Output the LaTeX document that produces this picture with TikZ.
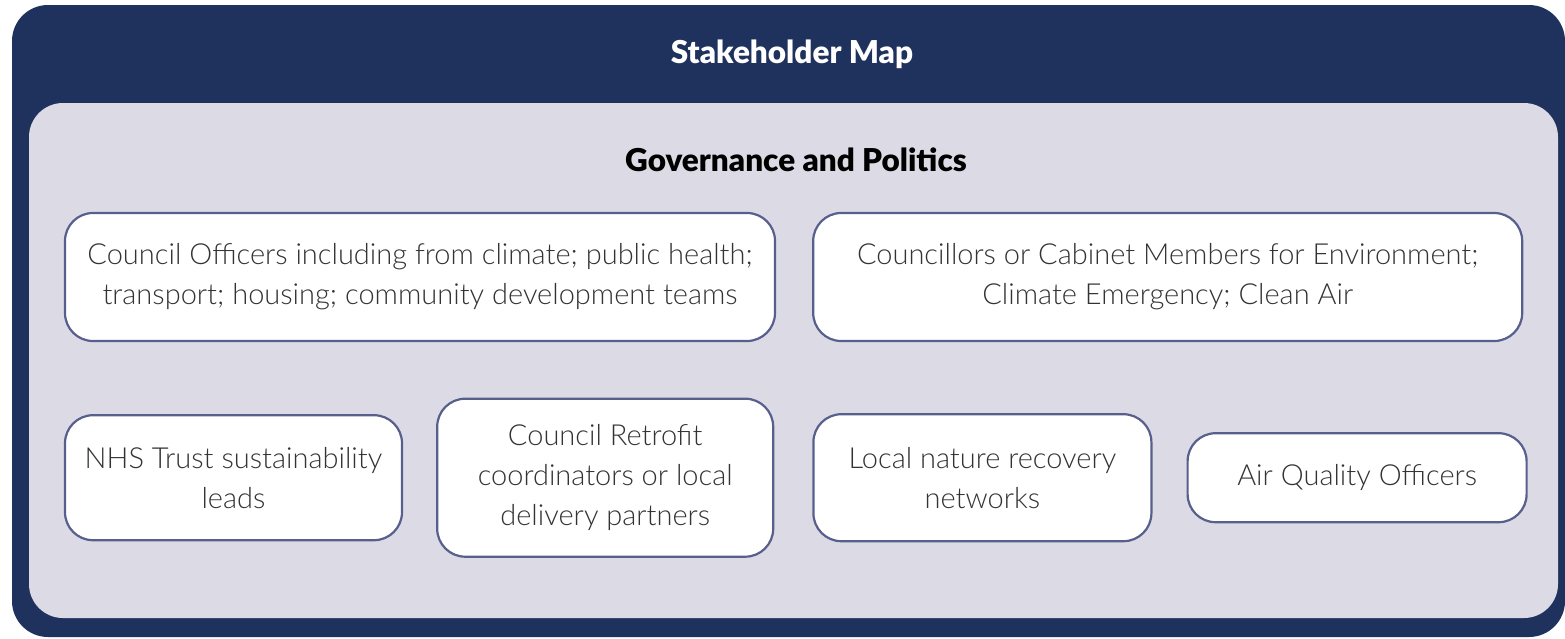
\documentclass[tikz,border=0pt]{standalone}
\usepackage{fontspec}
\setmainfont{Lato}[UprightFont=* Light, BoldFont=* Black]
\usetikzlibrary{positioning}
\definecolor{navy}{RGB}{31,50,94}
\definecolor{lilac}{RGB}{220,219,229}
\definecolor{rim}{RGB}{88,95,140}
\definecolor{ink}{RGB}{51,51,51}

\begin{document}
\begin{tikzpicture}[x=1pt, y=-1pt,
  holder/.style={draw=rim, line width=2.2pt, fill=white, rounded corners=28pt,
    align=center, text=ink, inner sep=0pt, font=\fontsize{29}{40}\selectfont},
  head/.style={font=\bfseries\fontsize{31.5}{36}\selectfont, anchor=base}]
\useasboundingbox (0,0) rectangle (1565,638);
\fill[navy, rounded corners=36pt] (12,5) rectangle (1565,637);
\fill[lilac, rounded corners=34pt] (29,103) rectangle (1558,618);

\node[head, text=white] (map) at (792,63) {Stakeholder Map};
\node[head, text=black] (gov) at (796,171) {Governance and Politics};

\node[holder, minimum width=710pt, minimum height=128pt] (off) at (420,277)
  {Council Officers including from climate; public health;\\transport; housing; community development teams};
\node[holder, minimum width=709pt, minimum height=128pt, right=36pt of off] (cllr)
  {Councillors or Cabinet Members for Environment;\\Climate Emergency; Clean Air};

\node[holder, minimum width=337pt, minimum height=125pt,
  below=72pt of off.south west, anchor=north west] (nhs)
  {NHS Trust sustainability\\leads};
\node[holder, minimum width=336pt, minimum height=158pt, right=33pt of nhs] (retro)
  {Council Retrofit\\coordinators or local\\delivery partners};
\node[holder, minimum width=338pt, minimum height=127pt, right=38pt of retro] (nat)
  {Local nature recovery\\networks};
\node[holder, minimum width=339pt, minimum height=89pt, right=34pt of nat] (air)
  {Air Quality Officers};
\end{tikzpicture}
\end{document}
